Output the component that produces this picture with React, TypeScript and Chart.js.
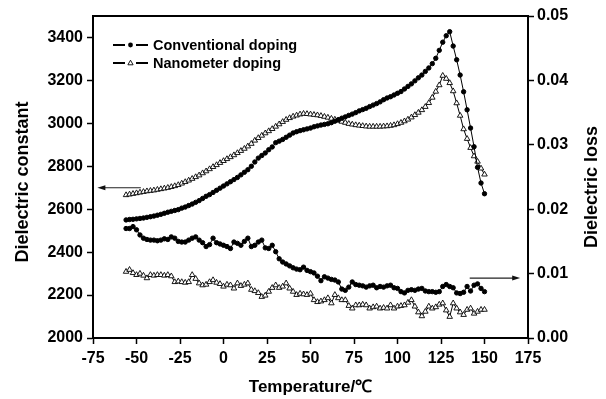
import React, { useEffect, useRef } from "react";
import { Chart, registerables } from "chart.js";

Chart.register(...registerables);

// Temperature (°C)
const temperatures = [
  -56, -54, -52, -50, -48, -46, -44, -42, -40, -38,
  -36, -34, -32, -30, -28, -26, -24, -22, -20, -18,
  -16, -14, -12, -10, -8, -6, -4, -2, 0, 2,
  4, 6, 8, 10, 12, 14, 16, 18, 20, 22,
  24, 26, 28, 30, 32, 34, 36, 38, 40, 42,
  44, 46, 48, 50, 52, 54, 56, 58, 60, 62,
  64, 66, 68, 70, 72, 74, 76, 78, 80, 82,
  84, 86, 88, 90, 92, 94, 96, 98, 100, 102,
  104, 106, 108, 110, 112, 114, 116, 118, 120, 122,
  124, 126, 128, 130, 132, 134, 136, 138, 140, 142,
  144, 146, 148, 150,
];

// Dielectric constant (left axis)
const conventionalConstant = [
  2550, 2552, 2553, 2555, 2557, 2559, 2562, 2565, 2568, 2572,
  2576, 2581, 2586, 2590, 2594, 2598, 2605, 2610, 2617, 2624,
  2632, 2640, 2650, 2660, 2668, 2678, 2688, 2698, 2708, 2718,
  2728, 2738, 2748, 2760, 2772, 2784, 2800, 2820, 2838, 2850,
  2862, 2877, 2890, 2910, 2917, 2925, 2935, 2945, 2955, 2961,
  2966, 2970, 2974, 2978, 2984, 2988, 2992, 2995, 2998, 3003,
  3010, 3017, 3024, 3030, 3037, 3043, 3050, 3058, 3064, 3070,
  3078, 3085, 3092, 3100, 3110, 3118, 3124, 3132, 3140, 3148,
  3160, 3172, 3184, 3198, 3212, 3225, 3242, 3258, 3278, 3303,
  3340, 3378, 3408, 3427, 3360, 3296, 3225, 3147, 3063, 2978,
  2891, 2795, 2722, 2672,
];

const nanometerConstant = [
  2666, 2669, 2672, 2675, 2678, 2681, 2684, 2686, 2688, 2691,
  2694, 2697, 2700, 2704, 2708, 2713, 2720, 2727, 2734, 2742,
  2750, 2758, 2768, 2777, 2787, 2797, 2806, 2816, 2825, 2834,
  2843, 2852, 2862, 2872, 2882, 2893, 2905, 2920, 2932, 2943,
  2954, 2964, 2974, 2985, 2996, 3007, 3017, 3025, 3032, 3037,
  3042, 3045, 3044, 3042, 3040, 3038, 3035, 3031, 3027, 3022,
  3018, 3013, 3008, 3003, 2998, 2995, 2992, 2990, 2988, 2986,
  2985, 2985, 2985, 2985, 2986, 2987, 2989, 2992, 2997, 3003,
  3010, 3018, 3028, 3039, 3050, 3062, 3077, 3095, 3120, 3148,
  3178, 3222, 3208, 3188, 3150, 3094, 3036, 2973, 2928, 2886,
  2847, 2822, 2790, 2762,
];

// Dielectric loss (right axis)
const conventionalLoss = [
  0.0170, 0.0170, 0.0173, 0.0168, 0.0160, 0.0155, 0.0153, 0.0152, 0.0152, 0.0151,
  0.0152, 0.0154, 0.0153, 0.0157, 0.0155, 0.0150, 0.0149, 0.0149, 0.0152, 0.0155,
  0.0157, 0.0152, 0.0148, 0.0142, 0.0145, 0.0155, 0.0148, 0.0146, 0.0144, 0.0142,
  0.0139, 0.0149, 0.0147, 0.0144, 0.0150, 0.0155, 0.0142, 0.0144, 0.0149, 0.0152,
  0.0140, 0.0139, 0.0144, 0.0134, 0.0123, 0.0118, 0.0115, 0.0112, 0.0109, 0.0107,
  0.0106, 0.0110, 0.0105, 0.0103, 0.0101, 0.0096, 0.0089, 0.0095, 0.0093, 0.0091,
  0.0090, 0.0087, 0.0076, 0.0074, 0.0079, 0.0087, 0.0083, 0.0082, 0.0081, 0.0079,
  0.0081, 0.0082, 0.0078, 0.0080, 0.0079, 0.0081, 0.0082, 0.0078, 0.0077, 0.0072,
  0.0070, 0.0074, 0.0075, 0.0074, 0.0076, 0.0077, 0.0073, 0.0072, 0.0072, 0.0071,
  0.0072, 0.0080, 0.0083, 0.0080, 0.0078, 0.0070, 0.0069, 0.0071, 0.0080, 0.0073,
  0.0082, 0.0084, 0.0077, 0.0072,
];

const nanometerLoss = [
  0.0103, 0.0106, 0.0101, 0.0098, 0.0100, 0.0097, 0.0093, 0.0098, 0.0097, 0.0098,
  0.0098, 0.0097, 0.0098, 0.0096, 0.0087, 0.0088, 0.0087, 0.0086, 0.0087, 0.0098,
  0.0092, 0.0085, 0.0082, 0.0083, 0.0087, 0.0090, 0.0086, 0.0084, 0.0080, 0.0083,
  0.0082, 0.0077, 0.0085, 0.0081, 0.0083, 0.0085, 0.0075, 0.0073, 0.0070, 0.0064,
  0.0066, 0.0072, 0.0078, 0.0082, 0.0078, 0.0080, 0.0085, 0.0077, 0.0072, 0.0067,
  0.0069, 0.0068, 0.0067, 0.0069, 0.0059, 0.0056, 0.0057, 0.0059, 0.0062, 0.0054,
  0.0067, 0.0062, 0.0059, 0.0059, 0.0050, 0.0046, 0.0051, 0.0051, 0.0052, 0.0051,
  0.0046, 0.0048, 0.0049, 0.0046, 0.0047, 0.0046, 0.0051, 0.0046, 0.0049, 0.0050,
  0.0051, 0.0055, 0.0059, 0.0049, 0.0040, 0.0034, 0.0041, 0.0049, 0.0046, 0.0048,
  0.0052, 0.0054, 0.0043, 0.0033, 0.0054, 0.0046, 0.0040, 0.0036, 0.0044, 0.0046,
  0.0038, 0.0041, 0.0044, 0.0044,
];

const seriesNames = ["Conventional doping", "Nanometer doping"];
const xTickValues = [-75, -50, -25, 0, 25, 50, 75, 100, 125, 150, 175];
const leftTickValues = [2000, 2200, 2400, 2600, 2800, 3000, 3200, 3400];
const rightTickValues = [0, 0.01, 0.02, 0.03, 0.04, 0.05];
const xTitle = "Temperature/\u2103";
const leftTitle = "Dielectric constant";
const rightTitle = "Dielectric loss";
// Arrows: [level, from T, to T]
const leftArrow = [2700, -47.5, -72.5];
const rightArrow = [0.0093, 141.5, 170.5];

const FONT = "'Liberation Sans', Arial, Helvetica, sans-serif";

export default function App() {
  const ref = useRef<HTMLCanvasElement>(null);

  useEffect(() => {
    document.body.style.margin = "0";
    const canvas = ref.current!;
    const pts = (ys: number[]) => temperatures.map((t, i) => ({ x: t, y: ys[i] }));

    const dotStyle = {
      pointStyle: "circle",
      pointRadius: 2.2,
      pointBorderWidth: 1,
      pointBackgroundColor: "#000",
      pointBorderColor: "#000",
      borderColor: "#000",
      borderWidth: 1,
      tension: 0,
    };
    const triStyle = {
      pointStyle: "triangle",
      pointRadius: 3.2,
      pointBorderWidth: 0.9,
      pointBackgroundColor: "#fff",
      pointBorderColor: "#000",
      borderColor: "#000",
      borderWidth: 1,
      tension: 0,
    };

    const decor = {
      id: "decor",
      afterDraw(chart: any) {
        const { ctx, chartArea: a, scales } = chart;
        ctx.save();
        // top frame line
        ctx.fillStyle = "#000";
        ctx.fillRect(a.left - 1, a.top - 1, a.right - a.left + 2, 2);

        // arrows
        const arrow = (xTail: number, xHead: number, y: number) => {
          const dir = xHead > xTail ? 1 : -1;
          ctx.strokeStyle = "#222";
          ctx.lineWidth = 1.2;
          ctx.beginPath();
          ctx.moveTo(xTail, y);
          ctx.lineTo(xHead - dir * 6, y);
          ctx.stroke();
          ctx.fillStyle = "#111";
          ctx.beginPath();
          ctx.moveTo(xHead, y);
          ctx.lineTo(xHead - dir * 8, y - 2.5);
          ctx.lineTo(xHead - dir * 8, y + 2.5);
          ctx.closePath();
          ctx.fill();
        };
        const yl = scales.y.getPixelForValue(leftArrow[0]);
        arrow(scales.x.getPixelForValue(leftArrow[1]), scales.x.getPixelForValue(leftArrow[2]), yl);
        const yr = scales.y1.getPixelForValue(rightArrow[0]);
        arrow(scales.x.getPixelForValue(rightArrow[1]), scales.x.getPixelForValue(rightArrow[2]), yr);

        // legend
        ctx.font = `bold 14.5px ${FONT}`;
        ctx.textBaseline = "middle";
        ctx.textAlign = "left";
        ctx.fillStyle = "#000";
        seriesNames.forEach((name, i) => {
          const y = a.top + 29 + i * 18;
          const x0 = a.left + 20;
          ctx.strokeStyle = "#000";
          ctx.lineWidth = 1.8;
          ctx.beginPath();
          ctx.moveTo(x0, y);
          ctx.lineTo(x0 + 12, y);
          ctx.moveTo(x0 + 23, y);
          ctx.lineTo(x0 + 35, y);
          ctx.stroke();
          const cx = x0 + 17.5;
          if (i === 0) {
            ctx.fillStyle = "#000";
            ctx.beginPath();
            ctx.arc(cx, y, 2.4, 0, Math.PI * 2);
            ctx.fill();
          } else {
            ctx.strokeStyle = "#000";
            ctx.lineWidth = 0.9;
            ctx.fillStyle = "#fff";
            ctx.beginPath();
            ctx.moveTo(cx, y - 2.8);
            ctx.lineTo(cx + 2.6, y + 1.8);
            ctx.lineTo(cx - 2.6, y + 1.8);
            ctx.closePath();
            ctx.fill();
            ctx.stroke();
          }
          ctx.fillStyle = "#000";
          ctx.fillText(name, x0 + 40, y + 0.5);
        });

        // axis titles
        ctx.fillStyle = "#000";
        ctx.font = `bold 17px ${FONT}`;
        ctx.textAlign = "center";
        ctx.textBaseline = "middle";
        ctx.fillText(xTitle, (a.left + a.right) / 2, 387);
        ctx.font = `bold 18px ${FONT}`;
        const cy = (a.top + a.bottom) / 2;
        ctx.save();
        ctx.translate(23, cy + 5);
        ctx.rotate(-Math.PI / 2);
        ctx.fillText(leftTitle, 0, 0);
        ctx.restore();
        ctx.save();
        ctx.translate(592, cy + 10);
        ctx.rotate(-Math.PI / 2);
        ctx.fillText(rightTitle, 0, 0);
        ctx.restore();
        ctx.restore();
      },
    };

    const tickFont = { family: FONT, size: 16, weight: "bold" as const };
    const gridCfg = {
      display: true,
      drawOnChartArea: false,
      drawTicks: true,
      tickLength: 6,
      tickWidth: 1.5,
      tickColor: "#000",
    };
    const borderCfg = { display: true, color: "#000", width: 2 };

    const chart = new Chart(canvas, {
      type: "line",
      data: {
        datasets: [
          { label: seriesNames[0], data: pts(conventionalConstant), yAxisID: "y", ...dotStyle },
          { label: seriesNames[1], data: pts(nanometerConstant), yAxisID: "y", ...triStyle },
          { label: seriesNames[0] + " loss", data: pts(conventionalLoss), yAxisID: "y1", ...dotStyle },
          { label: seriesNames[1] + " loss", data: pts(nanometerLoss), yAxisID: "y1", ...triStyle },
        ] as any,
      },
      options: {
        animation: false,
        responsive: false,
        devicePixelRatio: 1,
        layout: { padding: { top: 16, left: 0, right: 0, bottom: 0 } },
        plugins: { legend: { display: false }, tooltip: { enabled: false } },
        scales: {
          x: {
            type: "linear",
            min: -75,
            max: 175,
            afterBuildTicks: (s: any) => {
              s.ticks = xTickValues.map((v) => ({ value: v }));
            },
            afterFit: (s: any) => {
              s.height = 61;
            },
            ticks: {
              font: tickFont,
              color: "#000",
              padding: 5,
              maxRotation: 0,
              autoSkip: false,
              callback: (v: any) => String(v),
            },
            grid: gridCfg,
            border: borderCfg,
          },
          y: {
            type: "linear",
            position: "left",
            min: 2000,
            max: 3500,
            afterBuildTicks: (s: any) => {
              s.ticks = leftTickValues.map((v) => ({ value: v }));
            },
            afterFit: (s: any) => {
              s.width = 93;
            },
            ticks: {
              font: tickFont,
              color: "#000",
              padding: 4,
              autoSkip: false,
              callback: (v: any) => String(v),
            },
            grid: gridCfg,
            border: borderCfg,
          },
          y1: {
            type: "linear",
            position: "right",
            min: 0,
            max: 0.05,
            afterBuildTicks: (s: any) => {
              s.ticks = rightTickValues.map((v) => ({ value: v }));
            },
            afterFit: (s: any) => {
              s.width = 78;
            },
            ticks: {
              font: tickFont,
              color: "#000",
              padding: 3,
              autoSkip: false,
              callback: (v: any) => Number(v).toFixed(2),
            },
            grid: gridCfg,
            border: borderCfg,
          },
        },
      } as any,
      plugins: [decor],
    });
    return () => chart.destroy();
  }, []);

  return (
    <div style={{ width: 606, height: 399, background: "#fff" }}>
      <canvas ref={ref} width={606} height={399} style={{ display: "block", width: 606, height: 399 }} />
    </div>
  );
}
